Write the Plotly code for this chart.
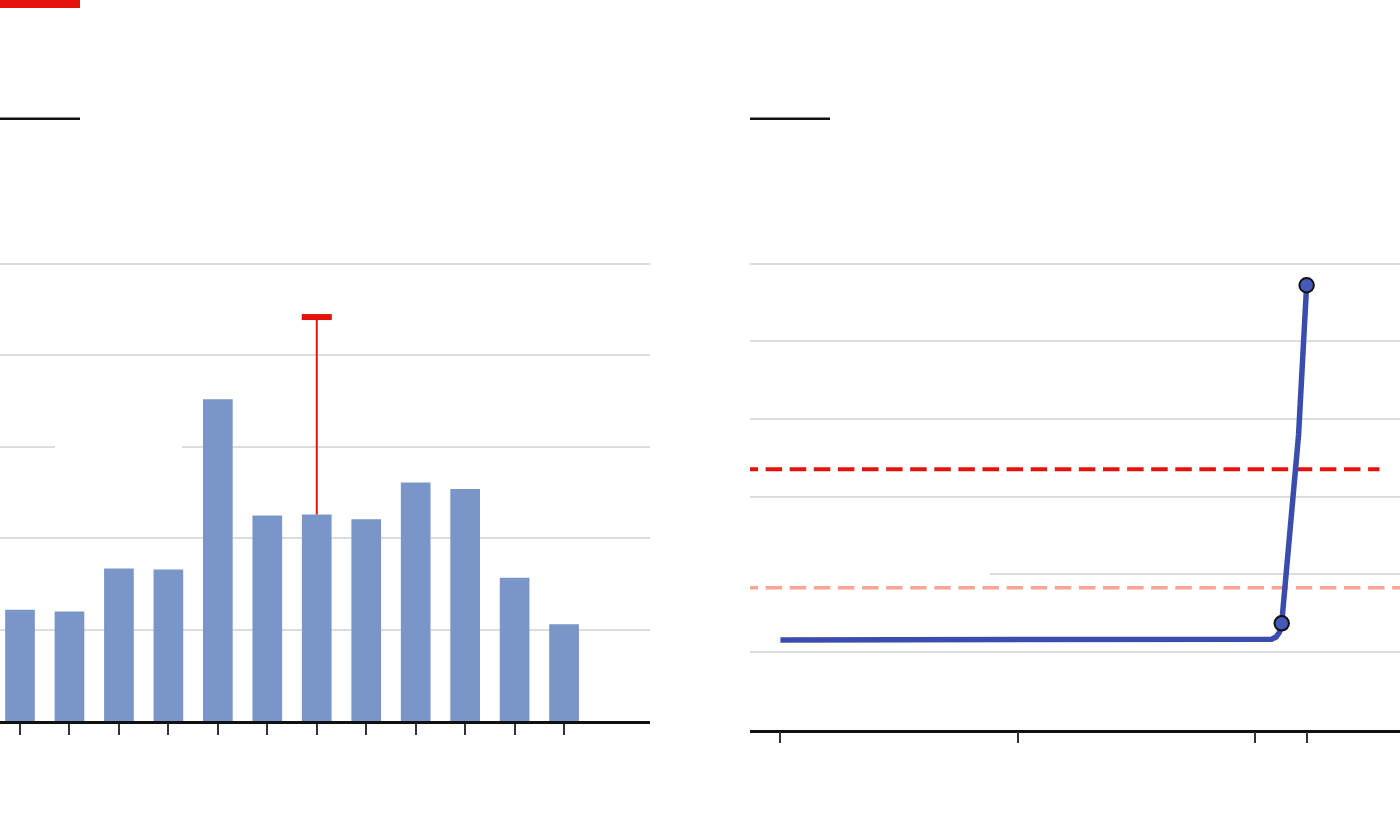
import plotly.graph_objects as go

W, H = 1400, 840

# ---------------- data ----------------
# Left panel: twelve unlabelled categories
bar_categories = list(range(12))
bar_values = [1.22, 1.20, 1.67, 1.66, 3.52, 2.25, 2.26, 2.21, 2.61, 2.54, 1.57, 1.06]
err_index = 6
err_high = 4.42

# Right panel: time series (years)
line_x = [2000.0, 2005.46, 2006.93, 2015.0, 2020.70, 2020.89, 2021.04, 2021.13, 2021.84, 2022.18]
line_y = [1.155, 1.158, 1.160, 1.162, 1.165, 1.193, 1.258, 1.37, 3.794, 5.722]
marker_x = [2021.13, 2022.18]
marker_y = [1.37, 5.722]
red_ref_x = [1998.36, 2025.25]
red_ref_y = [3.353, 3.353]
pink_ref_x = [1998.36, 2027.0]
pink_ref_y = [1.828, 1.828]
right_ticks = [2000, 2010, 2020, 2022.18]

# ---------------- style ----------------
RED = "#E3120B"
PINK = "#F9A594"
BAR = "#7A95C7"
BLUE = "#3A4DAE"
BLUE_M = "#4459B8"
GRID = "#DCDCDC"


def px(x):
    return x / W


def py(y):
    return 1 - y / H


fig = go.Figure()

# Left panel
fig.add_trace(go.Bar(x=bar_categories, y=bar_values, width=0.6,
                     marker=dict(color=BAR, line=dict(width=0)),
                     xaxis="x", yaxis="y", hoverinfo="skip"))
fig.add_trace(go.Scatter(x=[err_index, err_index], y=[bar_values[err_index], err_high],
                         mode="lines", line=dict(color=RED, width=2),
                         xaxis="x", yaxis="y", hoverinfo="skip"))
fig.add_trace(go.Scatter(x=[err_index], y=[err_high], mode="markers",
                         marker=dict(symbol="line-ew", size=21.5,
                                     line=dict(color=RED, width=6)),
                         xaxis="x", yaxis="y", hoverinfo="skip"))

# Right panel
fig.add_trace(go.Scatter(x=red_ref_x, y=red_ref_y, mode="lines",
                         line=dict(color=RED, width=4, dash="16.5px,7.6px"),
                         xaxis="x2", yaxis="y2", hoverinfo="skip"))
fig.add_trace(go.Scatter(x=pink_ref_x, y=pink_ref_y, mode="lines",
                         line=dict(color=PINK, width=3.5, dash="16.5px,7.6px"),
                         xaxis="x2", yaxis="y2", hoverinfo="skip"))
fig.add_trace(go.Scatter(x=line_x, y=line_y, mode="lines",
                         line=dict(color=BLUE, width=5.5),
                         xaxis="x2", yaxis="y2", hoverinfo="skip"))
fig.add_trace(go.Scatter(x=marker_x, y=marker_y, mode="markers",
                         marker=dict(color=BLUE_M, size=14.5,
                                     line=dict(color="#111111", width=2)),
                         xaxis="x2", yaxis="y2", hoverinfo="skip"))

# Decorative shapes (brand bar, panel title rules, label knock-outs)
shapes = [
    dict(type="rect", xref="paper", yref="paper", x0=px(0), x1=px(80), y0=py(0), y1=py(8),
         fillcolor=RED, line=dict(width=0), layer="above"),
    dict(type="rect", xref="paper", yref="paper", x0=px(0), x1=px(80), y0=py(117.5), y1=py(120),
         fillcolor="#111111", line=dict(width=0), layer="above"),
    dict(type="rect", xref="paper", yref="paper", x0=px(750), x1=px(830), y0=py(117.5), y1=py(120),
         fillcolor="#111111", line=dict(width=0), layer="above"),
    dict(type="rect", xref="paper", yref="paper", x0=px(55), x1=px(182), y0=py(441), y1=py(453),
         fillcolor="white", line=dict(width=0), layer="above"),
    dict(type="rect", xref="paper", yref="paper", x0=px(750), x1=px(990), y0=py(568), y1=py(580),
         fillcolor="white", line=dict(width=0), layer="above"),
]

# Left axes: categories 0..11 centred at px 20 + 49.46*i
left_x0 = -20 / 49.46
left_x1 = (650 - 20) / 49.46
left_ytop = 5.2
left_top_px = 721.3 - left_ytop * 91.46

right_ytop = 6.2
right_top_px = 729.7 - right_ytop * 77.67
yr_px = 23.725
right_x0 = 2000 - (780.4 - 750) / yr_px
right_x1 = 2000 + (1400 - 780.4) / yr_px

fig.update_layout(
    width=W, height=H,
    margin=dict(l=0, r=0, t=0, b=0),
    paper_bgcolor="white", plot_bgcolor="white",
    showlegend=False,
    font=dict(family="Roboto, sans-serif"),
    shapes=shapes,
    bargap=0.4,
    xaxis=dict(domain=[0, px(650)], range=[left_x0, left_x1],
               tickmode="array", tickvals=bar_categories, showticklabels=False,
               ticks="outside", ticklen=11, tickwidth=1.5, tickcolor="#333333",
               showline=True, linecolor="#111111", linewidth=2.5,
               showgrid=False, zeroline=False, fixedrange=True),
    yaxis=dict(domain=[py(721.3), py(left_top_px)], range=[0, left_ytop],
               tickmode="array", tickvals=[1, 2, 3, 4, 5], showticklabels=False,
               showgrid=True, gridcolor=GRID, gridwidth=1.5,
               zeroline=False, showline=False, ticks="", fixedrange=True),
    xaxis2=dict(domain=[px(750), 1], range=[right_x0, right_x1], anchor="y2",
                tickmode="array", tickvals=right_ticks, showticklabels=False,
                ticks="outside", ticklen=11, tickwidth=1.5, tickcolor="#333333",
                showline=True, linecolor="#111111", linewidth=2.5,
                showgrid=False, zeroline=False, fixedrange=True),
    yaxis2=dict(domain=[py(729.7), py(right_top_px)], range=[0, right_ytop], anchor="x2",
                tickmode="array", tickvals=[1, 2, 3, 4, 5, 6], showticklabels=False,
                showgrid=True, gridcolor=GRID, gridwidth=1.5,
                zeroline=False, showline=False, ticks="", fixedrange=True),
)

fig.write_html("out.html", config={"displayModeBar": False},
               post_script="document.body.style.margin='0';document.body.style.overflow='hidden';")
